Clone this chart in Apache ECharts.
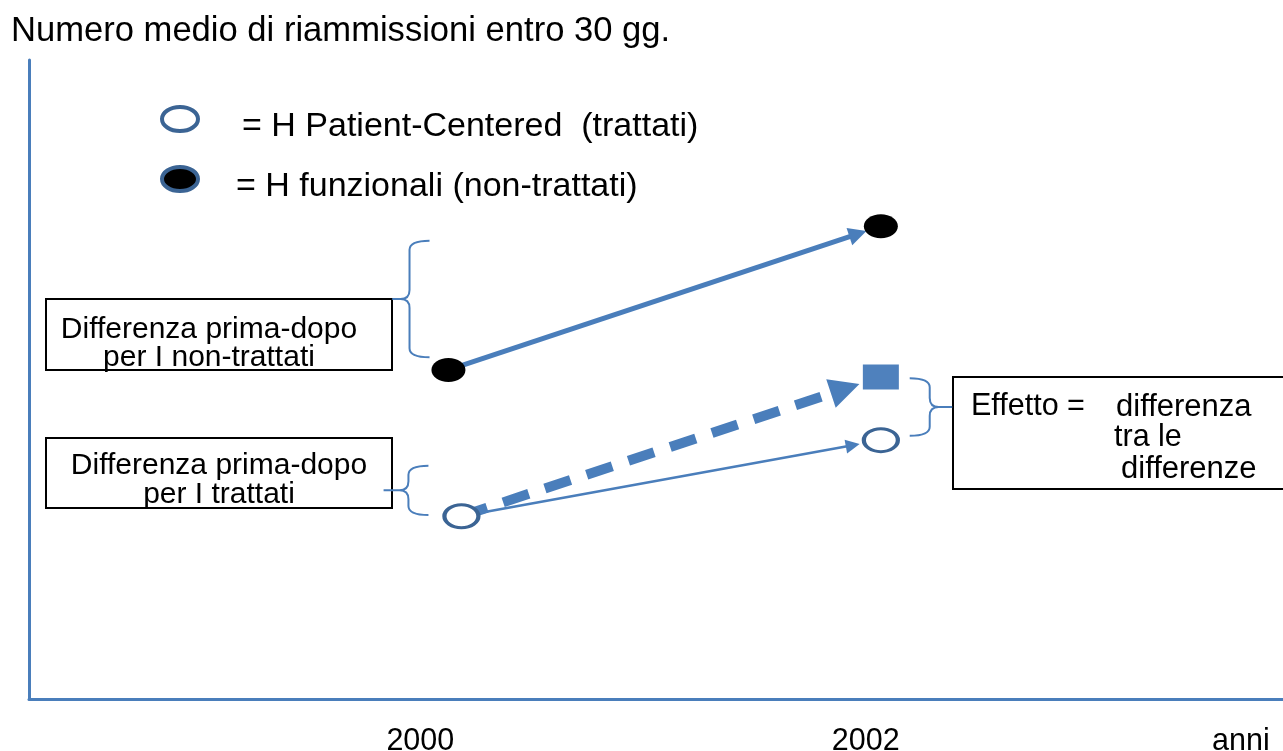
<!DOCTYPE html>
<html>
<head>
<meta charset="utf-8">
<script src="https://cdn.jsdelivr.net/npm/echarts@6/dist/echarts.min.js"></script>
<style>
html, body { margin: 0; padding: 0; background: #fff; }
#chart { width: 1283px; height: 751px; }
</style>
</head>
<body>
<div id="chart"></div>
<script>
// asse x in anni, asse y in unita' nominali (0-10)
const xTickValues = [1999.87, 2001.93]
const xTickLabels = ['2000', '2002']
const treatedYears = [2000.06, 2002]
const treated = [2.86, 4.05]          // H Patient-Centered (trattati)
const untreatedYears = [2000, 2002]
const untreated = [5.15, 7.4]         // H funzionali (non-trattati)
const counterfactualYear = 2002
const counterfactual = 5.04
// quanto arriva la freccia verso il punto di destinazione
const arrowReach = [0.947, 0.933, 0.915]
// graffe: [x graffa, y alto, y basso, x punta]
const braces = [
  [1999.82, 7.17, 5.35, 1999.74],
  [1999.815, 3.65, 2.88, 1999.70],
  [2002.226, 5.02, 4.12, 2002.33]
]

const FONT = 'Liberation Sans, Arial, sans-serif'
const BLUE = '#4A7EBB'
const RING = '#3B6494'
const ELLIPSE = 'path://M0,-1C0.8284,-1,1.5,-0.5523,1.5,0C1.5,0.5523,0.8284,1,0,1C-0.8284,1,-1.5,0.5523,-1.5,0C-1.5,-0.5523,-0.8284,-1,0,-1Z'
// same ellipse with an empty point underneath, so the legend text sits a bit lower than the icon
const LEGEND_ICON = ELLIPSE + 'M0,2.2L0,2.2'
const TRIANGLE = 'path://M5,0L10,12L0,12Z'

const treatedName = 'H Patient-Centered  (trattati)'
const untreatedName = 'H funzionali (non-trattati)'

const toward = (a, b, f) => [a[0] + (b[0] - a[0]) * f, a[1] + (b[1] - a[1]) * f]

const u0 = [untreatedYears[0], untreated[0]]
const u1 = [untreatedYears[1], untreated[1]]
const t0 = [treatedYears[0], treated[0]]
const t1 = [treatedYears[1], treated[1]]
const cf = [counterfactualYear, counterfactual]

function renderBrace(params, api) {
  const top = api.coord([api.value(0), api.value(1)])
  const bottom = api.coord([api.value(0), api.value(2)])
  const tip = api.coord([api.value(3), (api.value(1) + api.value(2)) / 2])
  const sx = top[0], yT = top[1], yB = bottom[1], yM = tip[1]
  const s = tip[0] < sx ? -1 : 1
  const w = 20, r = 9
  const back = sx - s * w
  const d = [
    'M', back, yT, 'Q', sx, yT, sx, yT + r, 'L', sx, yM - r, 'Q', sx, yM, sx + s * r, yM,
    'L', tip[0], yM,
    'M', sx + s * r, yM, 'Q', sx, yM, sx, yM + r, 'L', sx, yB - r, 'Q', sx, yB, back, yB
  ].join(' ')
  return {
    type: 'path',
    shape: { pathData: d },
    style: { stroke: BLUE, lineWidth: 2, fill: 'none' }
  }
}

const legendBase = {
  orient: 'vertical',
  left: 160,
  padding: 0,
  itemWidth: 36,
  itemHeight: 38.4,
  selectedMode: false,
  formatter: name => '= ' + name,
  textStyle: { fontSize: 34, color: '#000', fontFamily: FONT }
}

const chart = echarts.init(document.getElementById('chart'))
chart.setOption({
  animation: false,
  textStyle: { fontFamily: FONT },
  title: {
    text: 'Numero medio di riammissioni entro 30 gg.',
    left: 11,
    top: 14,
    padding: 0,
    textStyle: { fontSize: 34.6, fontWeight: 'normal', color: '#000', fontFamily: FONT }
  },
  legend: [
    Object.assign({}, legendBase, {
      top: 105,
      textStyle: Object.assign({}, legendBase.textStyle, { padding: [0, 0, 0, 39] }),
      data: [{ name: treatedName, icon: LEGEND_ICON, itemStyle: { color: '#fff', borderColor: RING, borderWidth: 4 } }]
    }),
    Object.assign({}, legendBase, {
      top: 165,
      textStyle: Object.assign({}, legendBase.textStyle, { padding: [0, 0, 0, 33] }),
      data: [{ name: untreatedName, icon: LEGEND_ICON, itemStyle: { color: '#000', borderColor: RING, borderWidth: 4 } }]
    })
  ],
  grid: { left: 29, right: 0, top: 60, bottom: 52, outerBoundsMode: 'none' },
  xAxis: {
    type: 'value',
    min: 1998.06,
    max: 2003.86,
    name: 'anni',
    nameLocation: 'end',
    nameGap: -71,
    nameTextStyle: { fontSize: 30.5, color: '#000', verticalAlign: 'top', padding: [27, 0, 0, 0] },
    axisLine: { show: true, lineStyle: { color: BLUE, width: 3 } },
    axisTick: { show: false },
    splitLine: { show: false },
    axisLabel: {
      customValues: xTickValues,
      margin: 27,
      fontSize: 30.5,
      color: '#000',
      formatter: v => xTickLabels[xTickValues.indexOf(v)] || ''
    }
  },
  yAxis: {
    type: 'value',
    min: 0,
    max: 10,
    axisLine: { show: true, onZero: false, lineStyle: { color: BLUE, width: 3 } },
    axisTick: { show: false },
    axisLabel: { show: false },
    splitLine: { show: false }
  },
  series: [
    {
      type: 'custom',
      renderItem: renderBrace,
      data: braces,
      encode: { x: [0, 3], y: [1, 2] },
      z: 2,
      silent: true
    },
    {
      type: 'lines',
      coordinateSystem: 'cartesian2d',
      z: 2,
      symbol: ['none', TRIANGLE],
      data: [
        { coords: [u0, toward(u0, u1, arrowReach[0])], symbolSize: [16, 18], lineStyle: { width: 5 } },
        { coords: [t0, toward(t0, t1, arrowReach[1])], symbolSize: [12, 14], lineStyle: { width: 2.5 } },
        { coords: [t0, toward(t0, cf, arrowReach[2])], symbolSize: [32, 30], lineStyle: { width: 10, type: [27, 17] } }
      ],
      lineStyle: { color: BLUE, opacity: 1, curveness: 0 },
      silent: true
    },
    {
      name: untreatedName,
      type: 'scatter',
      z: 3,
      symbol: ELLIPSE,
      symbolSize: [34, 24],
      itemStyle: { color: '#000', opacity: 1 },
      data: untreatedYears.map((x, i) => [x, untreated[i]])
    },
    {
      name: treatedName,
      type: 'scatter',
      z: 3,
      symbol: ELLIPSE,
      symbolSize: [34, 23],
      itemStyle: { color: '#fff', borderColor: RING, borderWidth: 3.5, opacity: 1 },
      data: treatedYears.map((x, i) => [x, treated[i]])
    },
    {
      name: 'controfattuale',
      type: 'scatter',
      z: 3,
      symbol: 'rect',
      symbolSize: [36, 25],
      itemStyle: { color: '#4F81BD', opacity: 1 },
      data: [cf]
    }
  ],
  graphic: [
    { type: 'rect', shape: { x: 46, y: 299, width: 346, height: 71 }, style: { fill: 'none', stroke: '#000', lineWidth: 2 } },
    { type: 'text', style: { text: 'Differenza prima-dopo\nper I non-trattati', x: 209, y: 344, align: 'center', verticalAlign: 'middle', fontSize: 30, lineHeight: 28, fontFamily: FONT, fill: '#000' } },
    { type: 'rect', shape: { x: 46, y: 438, width: 346, height: 70 }, style: { fill: 'none', stroke: '#000', lineWidth: 2 } },
    { type: 'text', style: { text: 'Differenza prima-dopo\nper I trattati', x: 219, y: 480, align: 'center', verticalAlign: 'middle', fontSize: 30, lineHeight: 29, fontFamily: FONT, fill: '#000' } },
    { type: 'rect', shape: { x: 953, y: 377, width: 340, height: 112 }, style: { fill: 'none', stroke: '#000', lineWidth: 2 } },
    { type: 'text', style: { text: 'Effetto =', x: 971, y: 407, align: 'left', verticalAlign: 'middle', fontSize: 30.5, fontFamily: FONT, fill: '#000' } },
    { type: 'text', style: { text: 'differenza', x: 1116, y: 407, align: 'left', verticalAlign: 'middle', fontSize: 31, fontFamily: FONT, fill: '#000' } },
    { type: 'text', style: { text: 'tra le', x: 1114, y: 438, align: 'left', verticalAlign: 'middle', fontSize: 30.5, fontFamily: FONT, fill: '#000' } },
    { type: 'text', style: { text: 'differenze', x: 1121, y: 469, align: 'left', verticalAlign: 'middle', fontSize: 31, fontFamily: FONT, fill: '#000' } }
  ]
})
</script>
</body>
</html>
